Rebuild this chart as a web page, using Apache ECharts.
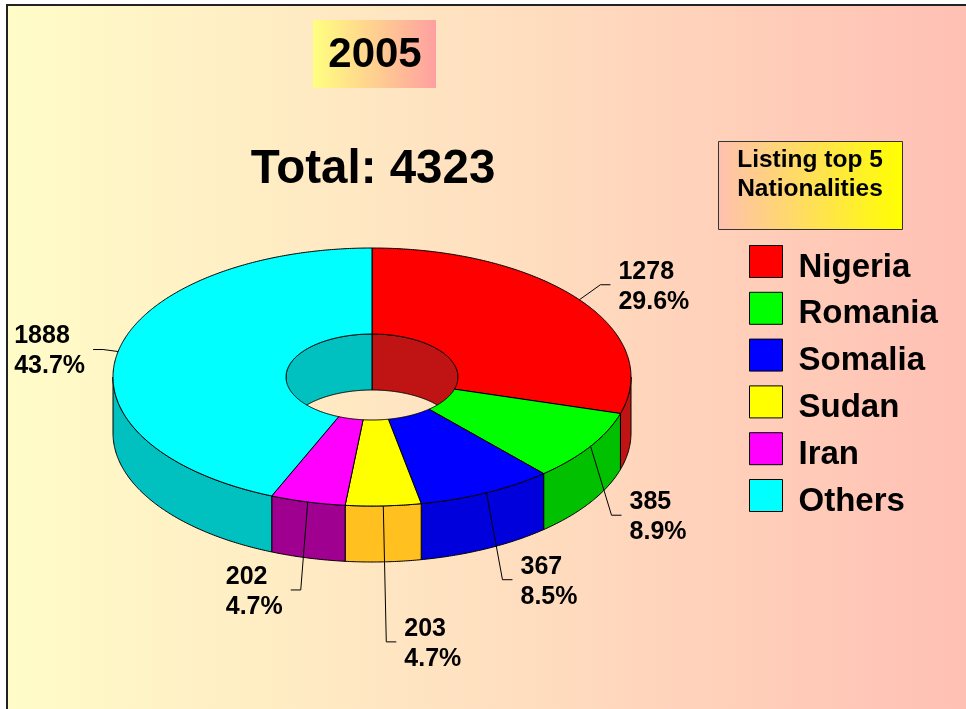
<!DOCTYPE html>
<html><head><meta charset="utf-8">
<script src="https://cdn.jsdelivr.net/npm/echarts@6/dist/echarts.min.js"></script>
<style>html,body{margin:0;padding:0;background:#fff}#c{width:966px;height:709px}</style>
</head><body><div id="c"></div>
<script>
// ---- data ----
const yearLabel = '2005';
const categories = ['Nigeria', 'Romania', 'Somalia', 'Sudan', 'Iran', 'Others'];
const values = [1278, 385, 367, 203, 202, 1888];
const boxTitle = 'Listing top 5\nNationalities';

// ---- styles / layout ----
const FONT = '"Liberation Sans", Arial, Helvetica, sans-serif';
const LABEL_FONT = 'bold 25px ' + FONT;
const topColors = ['#FF0000', '#00FF00', '#0000FF', '#FFFF00', '#FF00FF', '#00FFFF'];
const sideColors = ['#C01414', '#00C000', '#0000DC', '#FFC020', '#A00090', '#00C0C0'];
const geo = { cx: 372, cy: 377, rx: 259, ry: 129, irx: 86, iry: 43, depth: 56 };
const labelLayout = [
  { dx: 21, dy: -15, side: 1 },
  { dx: 21, dy: 69, side: 1 },
  { dx: 16, dy: 87, side: 1 },
  { dx: 3, dy: 136, side: 1 },
  { dx: -7, dy: 88, side: -1 },
  { dx: -15, dy: -2, side: -1 }
];

const total = values.reduce((a, b) => a + b, 0);
const starts = []; let acc = 0; values.forEach(v => { starts.push(acc); acc += v; });

const mctx = document.createElement('canvas').getContext('2d');
mctx.font = LABEL_FONT;
function textW(s) { return Math.max.apply(null, s.split('\n').map(l => mctx.measureText(l).width)); }

function P(th, rx, ry, dy) { const t = th * Math.PI / 180; return [geo.cx + rx * Math.sin(t), geo.cy + dy - ry * Math.cos(t)]; }
function arc(a, b, rx, ry, dy) {
  const pts = []; const n = Math.max(2, Math.ceil(Math.abs(b - a) / 0.5));
  for (let k = 0; k <= n; k++) pts.push(P(a + (b - a) * k / n, rx, ry, dy));
  return pts;
}
function band(a, b, rx1, ry1, dy1, rx2, ry2, dy2) { return arc(a, b, rx1, ry1, dy1).concat(arc(b, a, rx2, ry2, dy2)); }

function renderItem(params, api) {
  const i = params.dataIndex;
  const v = api.value(0);
  const a = starts[i] / total * 360, b = (starts[i] + v) / total * 360;
  const children = [];
  const edge = { stroke: '#000', lineWidth: 1, lineJoin: 'round' };
  children.push({ type: 'polygon', z2: 3, shape: { points: band(a, b, geo.rx, geo.ry, 0, geo.irx, geo.iry, 0) },
    style: Object.assign({ fill: topColors[i] }, edge) });
  const s1 = Math.max(a, 90), s2 = Math.min(b, 270);
  if (s2 > s1) children.push({ type: 'polygon', z2: 1, shape: { points: band(s1, s2, geo.rx, geo.ry, 0, geo.rx, geo.ry, geo.depth) },
    style: Object.assign({ fill: sideColors[i] }, edge) });
  [[0, 90], [270, 360]].forEach(r => {
    const w1 = Math.max(a, r[0]), w2 = Math.min(b, r[1]);
    if (w2 > w1) children.push({ type: 'polygon', z2: 1, shape: { points: band(w1, w2, geo.irx, geo.iry, 0, geo.irx, geo.iry, geo.depth) },
      style: Object.assign({ fill: sideColors[i] }, edge) });
  });
  const mid = (a + b) / 2;
  const p0 = P(mid, geo.rx, geo.ry, 0);
  const L = labelLayout[i];
  const p1 = [p0[0] + L.dx, p0[1] + L.dy];
  const p2 = [p1[0] + 10 * L.side, p1[1]];
  children.push({ type: 'polyline', z2: 5, shape: { points: [p0, p1, p2] }, style: { stroke: '#000', lineWidth: 1, fill: null } });
  const txt = v + '\n' + (v / total * 100).toFixed(1) + '%';
  const tx = L.side > 0 ? p2[0] + 8 : p2[0] - 8 - textW(txt);
  children.push({ type: 'text', z2: 6, style: { text: txt, x: tx, y: p1[1] + 2, align: 'left', verticalAlign: 'middle',
    font: LABEL_FONT, fill: '#000', lineHeight: 30 } });
  return { type: 'group', children: children };
}

const chart = echarts.init(document.getElementById('c'), null, { renderer: 'canvas' });
chart.setOption({
  animation: false,
  graphic: [
    { type: 'rect', z: -10, shape: { x: 7, y: 5, width: 959, height: 704 },
      style: { fill: new echarts.graphic.LinearGradient(0, 0, 1, 0, [
        { offset: 0, color: '#FFFCC8' }, { offset: 0.5, color: '#FFE0C0' }, { offset: 1, color: '#FFC0B4' }]) } },
    { type: 'polyline', z: -9, shape: { points: [[7, 709], [7, 5], [966, 5]] }, style: { stroke: '#222', lineWidth: 2, fill: null } },
    { type: 'rect', z: -5, shape: { x: 313, y: 20, width: 123, height: 68 },
      style: { fill: new echarts.graphic.LinearGradient(0, 0, 1, 0, [
        { offset: 0, color: '#FFFF80' }, { offset: 1, color: '#FFA0A0' }]) } },
    { type: 'text', z: -4, style: { text: yearLabel, x: 375, y: 55, align: 'center', verticalAlign: 'middle',
      font: 'bold 42px ' + FONT, fill: '#000' } },
    { type: 'text', z: -4, style: { text: 'Total: ' + total, x: 373, y: 170, align: 'center', verticalAlign: 'middle',
      font: 'bold 47.5px ' + FONT, fill: '#000' } },
    { type: 'rect', z: -5, shape: { x: 718.5, y: 141.5, width: 184, height: 88 },
      style: { stroke: '#333', lineWidth: 1, fill: new echarts.graphic.LinearGradient(0, 0, 1, 0, [
        { offset: 0, color: '#FFC0B0' }, { offset: 1, color: '#FFFF00' }]) } },
    { type: 'text', z: -4, style: { text: boxTitle, x: 810, y: 175, align: 'center', verticalAlign: 'middle',
      font: 'bold 24.5px ' + FONT, fill: '#000', lineHeight: 29 } }
  ],
  legend: {
    orient: 'vertical', left: 749, top: 239, itemWidth: 33, itemHeight: 32, itemGap: 1.8, icon: 'rect', padding: 0,
    itemStyle: { borderColor: '#000', borderWidth: 1 },
    formatter: '{n|{name}}',
    textStyle: { color: '#000', rich: { n: { fontSize: 33, lineHeight: 32, fontWeight: 'bold', color: '#000', fontFamily: FONT, padding: [12, 0, 0, 11] } } },
    data: categories, selectedMode: false
  },
  series: [
    { type: 'custom', coordinateSystem: 'none', renderItem: renderItem, silent: true,
      data: values.map((v, i) => ({ name: categories[i], value: [v] })) },
    { type: 'pie', radius: 1, center: [-50, -50], silent: true, label: { show: false }, labelLine: { show: false },
      data: values.map((v, i) => ({ name: categories[i], value: v, itemStyle: { color: topColors[i] } })) }
  ]
});
</script></body></html>
